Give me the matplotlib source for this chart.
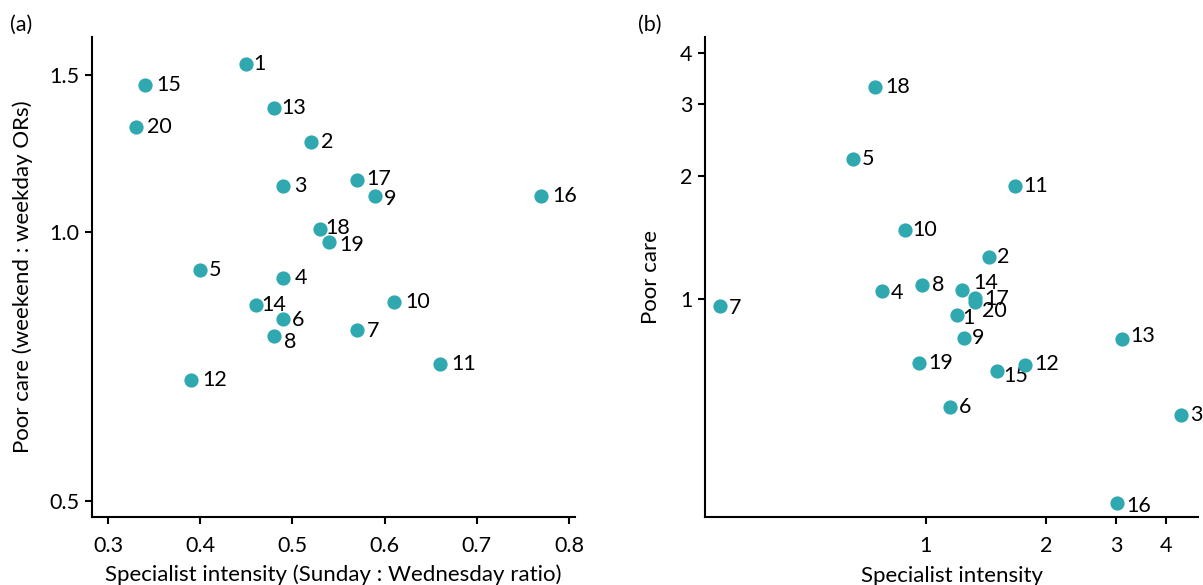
import numpy as np
import matplotlib
matplotlib.use("Agg")
import matplotlib.pyplot as plt
from matplotlib.ticker import FixedLocator, FixedFormatter, NullLocator

plt.rcParams['font.family'] = ['Lato', 'DejaVu Sans']
plt.rcParams['font.size'] = 15.5

# ----------------- Dados -----------------
trusts = list(range(1, 21))

# (a) Sunday : Wednesday ratio vs weekend : weekday ORs
ratio_a = [0.45, 0.52, 0.49, 0.49, 0.40, 0.49, 0.57, 0.48, 0.59, 0.61,
           0.66, 0.39, 0.48, 0.46, 0.34, 0.77, 0.57, 0.53, 0.54, 0.33]
poor_a = [1.54, 1.26, 1.126, 0.888, 0.907, 0.799, 0.777, 0.765, 1.097, 0.835,
          0.712, 0.683, 1.377, 0.828, 1.461, 1.097, 1.143, 1.008, 0.975, 1.311]

# (b) specialist intensity vs poor care
intens_b = [1.20, 1.44, 4.37, 0.776, 0.656, 1.149, 0.304, 0.977, 1.245, 0.886,
            1.67, 1.77, 3.10, 1.23, 1.51, 3.02, 1.33, 0.745, 0.96, 1.33]
poor_b = [0.914, 1.267, 0.520, 1.046, 2.20, 0.544, 0.961, 1.082, 0.803, 1.48,
          1.89, 0.689, 0.798, 1.052, 0.667, 0.317, 1.006, 3.30, 0.697, 0.983]

# deslocamento dos rótulos (pontos)
offsets_a = {1: (5, 0), 13: (5, 0), 9: (6, -2), 8: (7, -4), 19: (7, -2), 6: (6, -1),
             18: (4, 1), 17: (7, 1), 14: (4, 0), 7: (7, -1), 5: (6, 0), 2: (7, 0)}
offsets_b = {1: (3.5, -2), 15: (4.5, -3.5), 20: (5, -6), 17: (6.5, -1), 14: (8, 5),
             12: (7, 1), 9: (6, 0), 8: (7, 0), 4: (6.5, -1), 10: (5, 0), 5: (6, 0),
             11: (6, 0), 13: (6, 2), 2: (6, 0), 18: (7.5, 0), 7: (6.5, -1),
             6: (6.5, 0), 3: (6.5, 0), 16: (6.5, -2), 19: (7, 0)}

color = '#2fa8b0'


def style_axes(ax):
    for s in ['top', 'right']:
        ax.spines[s].set_visible(False)
    for s in ['left', 'bottom']:
        ax.spines[s].set_linewidth(1.5)
    ax.tick_params(direction='out', length=5, width=1.5, labelsize=15.5)
    ax.tick_params(axis='x', pad=9)
    ax.tick_params(axis='y', pad=4)
    ax.xaxis.set_minor_locator(NullLocator())
    ax.yaxis.set_minor_locator(NullLocator())


def label_points(ax, xs, ys, offsets):
    for t, x, y in zip(trusts, xs, ys):
        dx, dy = offsets.get(t, (8, 0))
        ax.annotate(str(t), (x, y), xytext=(dx, dy), textcoords='offset points',
                    ha='left', va='center', fontsize=15.5, zorder=2)


fig = plt.figure(figsize=(12.03, 5.85), dpi=100)

# ----------------- Painel (a) -----------------
ax1 = fig.add_axes([0.0765, 0.1162, 0.4015, 0.8206])
ax1.scatter(ratio_a, poor_a, s=105, color=color, zorder=3, linewidths=0)
ax1.set_yscale('log')
ax1.set_xlim(0.2826, 0.8065)
ax1.set_ylim(0.4798, 1.653)
ax1.set_xticks([0.3, 0.4, 0.5, 0.6, 0.7, 0.8])
ax1.yaxis.set_major_locator(FixedLocator([0.5, 1.0, 1.5]))
ax1.yaxis.set_major_formatter(FixedFormatter(['0.5', '1.0', '1.5']))
style_axes(ax1)
label_points(ax1, ratio_a, poor_a, offsets_a)
ax1.set_xlabel('Specialist intensity (Sunday : Wednesday ratio)', fontsize=16, labelpad=6)
ax1.set_ylabel('Poor care (weekend : weekday ORs)', fontsize=16, labelpad=12)
fig.text(0.008, 0.957, '(a)', fontsize=15.5, va='center')

# ----------------- Painel (b) -----------------
ax2 = fig.add_axes([0.586, 0.1162, 0.41, 0.8206])
ax2.scatter(intens_b, poor_b, s=105, color=color, zorder=3, linewidths=0)
ax2.set_xscale('log')
ax2.set_yscale('log')
ax2.set_xlim(0.279, 4.82)
ax2.set_ylim(0.293, 4.38)
for axis in [ax2.xaxis, ax2.yaxis]:
    axis.set_major_locator(FixedLocator([1, 2, 3, 4]))
    axis.set_major_formatter(FixedFormatter(['1', '2', '3', '4']))
style_axes(ax2)
label_points(ax2, intens_b, poor_b, offsets_b)
ax2.set_xlabel('Specialist intensity', fontsize=16, labelpad=7)
ax2.set_ylabel('Poor care', fontsize=16, labelpad=14)
fig.text(0.530, 0.957, '(b)', fontsize=15.5, va='center')

fig.savefig('out.png', dpi=100)
